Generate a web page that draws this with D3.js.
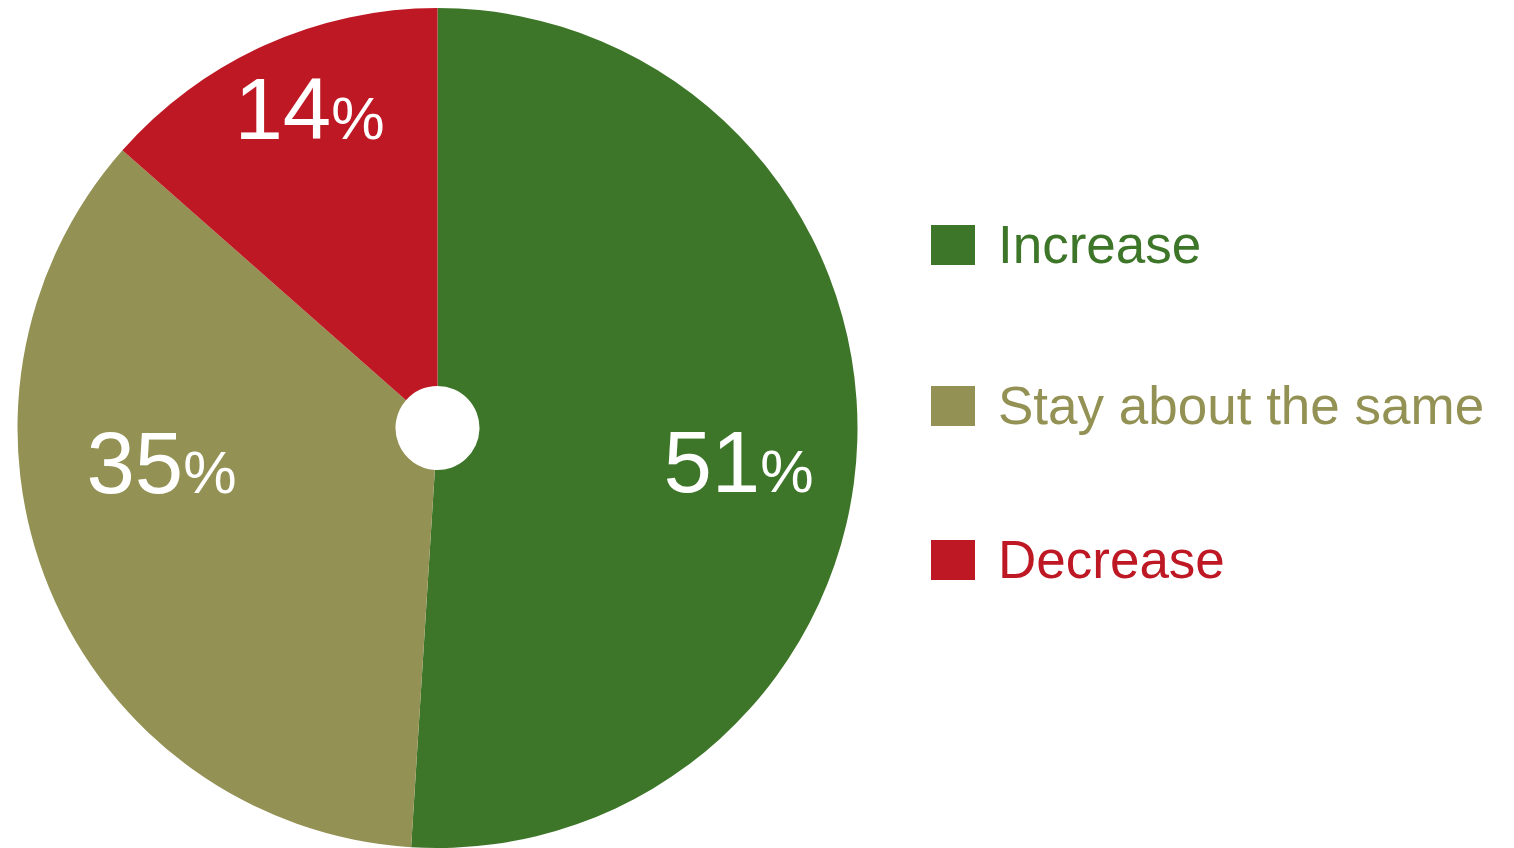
<!DOCTYPE html>
<html>
<head>
<meta charset="utf-8">
<script src="https://cdn.jsdelivr.net/npm/d3@7"></script>
<style>
  html, body { margin: 0; padding: 0; background: #fff; }
  svg { display: block; font-family: "Liberation Sans", Arial, sans-serif; }
</style>
</head>
<body>
<svg id="chart" width="1514" height="848"></svg>
<script>
// ---- data ----
const categories = ["Increase", "Stay about the same", "Decrease"];
// slice sizes as drawn (percent)
const values = [51, 35.5, 13.5];
// percentages as printed on the slices
const printedLabels = ["51", "35", "14"];
const colors = ["#3e7629", "#939153", "#be1824"];

// ---- layout ----
const cx = 437.5, cy = 428;
const outerR = 420, innerR = 42;
// label anchor offsets relative to pie center (text centre x, baseline y)
const labelOffsets = [[301, 64], [-276, 65], [-128, -289]];
const legendX = 931, legendTops = [225, 386, 540];

const svg = d3.select("#chart");
const g = svg.append("g").attr("transform", `translate(${cx},${cy})`);

const data = categories.map((c, i) => ({ cat: c, value: values[i], label: printedLabels[i], color: colors[i] }));

const pie = d3.pie().sort(null).value(d => d.value);
const arc = d3.arc().innerRadius(innerR).outerRadius(outerR);
const arcs = pie(data);

g.selectAll("path.slice")
  .data(arcs)
  .join("path")
  .attr("class", "slice")
  .attr("d", arc)
  .attr("fill", d => d.data.color);

const labels = g.selectAll("text.lbl")
  .data(arcs)
  .join("text")
  .attr("class", "lbl")
  .attr("x", (d, i) => labelOffsets[i][0])
  .attr("y", (d, i) => labelOffsets[i][1])
  .attr("text-anchor", "middle")
  .attr("fill", "#fff");
labels.append("tspan").attr("font-size", 87).text(d => d.data.label);
labels.append("tspan").attr("font-size", 60).text("%");

// ---- legend ----
const item = svg.append("g").selectAll("g.item")
  .data(data)
  .join("g")
  .attr("class", "item")
  .attr("transform", (d, i) => `translate(${legendX},${legendTops[i]})`);
item.append("rect")
  .attr("width", 44).attr("height", 40)
  .attr("fill", d => d.color);
item.append("text")
  .attr("x", 67).attr("y", 38)
  .attr("font-size", 53)
  .attr("fill", d => d.color)
  .text(d => d.cat);
</script>
</body>
</html>
